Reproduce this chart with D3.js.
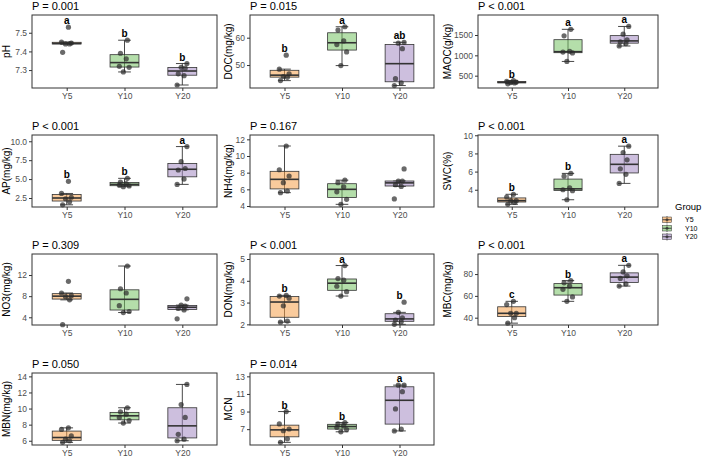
<!DOCTYPE html>
<html>
<head>
<meta charset="utf-8">
<script src="https://cdn.jsdelivr.net/npm/d3@7"></script>
<style>
  body { margin: 0; background: #fff; }
  svg { display: block; font-family: "Liberation Sans", Arial, sans-serif; }
</style>
</head>
<body>
<svg id="chart" width="709" height="457"></svg>
<script>
/* Data */
/* **** */
var groups = ['Y5', 'Y10', 'Y20'];
var groupFills = ['#F5A04A', '#77C364', '#A48AC3'];

// one inner array per group, in the order of `groups`
var phValues   = [[7.395, 7.44, 7.44, 7.445, 7.45, 7.53], [7.29, 7.315, 7.32, 7.36, 7.39, 7.46], [7.22, 7.27, 7.28, 7.31, 7.315, 7.335]];
var docValues  = [[44.3, 45.5, 45.8, 46.8, 48.5, 53.6], [49.8, 54.8, 57.5, 58.8, 62.8, 64.0], [42.5, 43.5, 45.0, 56.0, 58.0, 58.3]];
var maocValues = [[300, 320, 330, 345, 360, 380], [850, 1060, 1080, 1100, 1480, 1640], [1230, 1290, 1330, 1380, 1520, 1710]];
var apValues   = [[1.6, 2.0, 2.4, 2.6, 3.1, 4.7], [4.0, 4.1, 4.2, 4.4, 4.6, 5.1], [4.3, 5.0, 6.2, 6.4, 7.3, 9.3]];
var nh4Values  = [[5.6, 5.8, 6.8, 7.6, 8.35, 11.2], [4.2, 4.8, 5.7, 6.3, 6.8, 7.1], [4.85, 6.35, 6.55, 7.0, 7.0, 8.45]];
var swcValues  = [[2.4, 2.6, 2.8, 2.8, 3.2, 3.5], [2.9, 3.9, 4.0, 4.2, 5.5, 5.8], [4.7, 5.7, 6.3, 7.3, 8.1, 8.8]];
var no3Values  = [[2.6, 7.3, 7.9, 8.1, 8.6, 10.8], [4.9, 5.1, 6.2, 8.6, 9.4, 13.7], [3.7, 5.4, 5.7, 6.1, 6.3, 7.5]];
var donValues  = [[2.1, 2.15, 2.85, 3.2, 3.3, 3.33], [3.3, 3.5, 3.75, 4.03, 4.1, 4.7], [2.0, 2.12, 2.2, 2.3, 2.55, 3.02]];
var mbcValues  = [[35, 40, 44, 44, 52, 55], [55, 59, 66, 69, 72, 74], [69, 71, 76, 78.4, 82, 88]];
var mbnValues  = [[5.8, 6.0, 6.2, 6.6, 7.4, 7.6], [8.2, 8.5, 8.9, 9.3, 9.6, 10.1], [6.0, 6.2, 6.8, 8.9, 10.5, 13.0]];
var mcnValues  = [[5.5, 5.9, 6.82, 7.02, 7.6, 9.0], [6.7, 6.95, 7.2, 7.4, 7.6, 7.75], [6.8, 7.0, 9.3, 11.26, 12.0, 12.0]];

var yTitles = ['pH', 'DOC(mg/kg)', 'MAOC(g/kg)', 'AP(mg/kg)', 'NH4(mg/kg)', 'SWC(%)',
               'NO3(mg/kg)', 'DON(mg/kg)', 'MBC(mg/kg)', 'MBN(mg/kg)', 'MCN'];
var pLabels = ['P = 0.001', 'P = 0.015', 'P < 0.001', 'P < 0.001', 'P = 0.167', 'P < 0.001',
               'P = 0.309', 'P < 0.001', 'P < 0.001', 'P = 0.050', 'P = 0.014'];
var letters = [['a', 'b', 'b'], ['b', 'a', 'ab'], ['b', 'a', 'a'], ['b', 'b', 'a'], ['', '', ''], ['b', 'b', 'a'],
               ['', '', ''], ['b', 'a', 'b'], ['c', 'b', 'a'], ['', '', ''], ['b', 'b', 'a']];
var yDomains = [[7.204, 7.595], [41.6, 68.3], [197, 1992], [1.31, 10.83], [3.88, 12.52], [2.1, 10.03],
                [2.54, 15.98], [1.97, 5.23], [33.3, 98.4], [5.47, 14.42], [5.2, 13.38]];
var yTicks = [[7.3, 7.4, 7.5], [50, 60], [500, 1000, 1500], [2.5, 5.0, 7.5, 10.0], [4, 6, 8, 10, 12], [4, 6, 8, 10],
              [4, 8, 12], [2, 3, 4, 5], [40, 60, 80], [6, 8, 10, 12, 14], [7, 9, 11, 13]];
var yTickFormats = ['.1f', 'd', 'd', '.1f', 'd', 'd', 'd', 'd', 'd', 'd', 'd'];

var panels = [phValues, docValues, maocValues, apValues, nh4Values, swcValues,
              no3Values, donValues, mbcValues, mbnValues, mcnValues].map(function (v, i) {
    return { values: v, title: yTitles[i], p: pLabels[i], letters: letters[i],
             domain: yDomains[i], ticks: yTicks[i], fmt: yTickFormats[i] };
});

/* Layout */
/* ****** */
var colLeft = [32, 250, 478];
var colRight = [217, 434, 658];
var colTitleX = [6, 228, 447];
var rowTop = [15, 135, 254, 373];
var rowBottom = [88, 207, 325, 445];
var jitter = [-0.07, 0.05, -0.02, 0.08, -0.09, 0.03];
var boxWidth = 0.5, capWidth = 0.22;
var dark = '#333333';

var svg = d3.select('#chart');

function boxStats(v) {
    var s = v.slice().sort(d3.ascending);
    var q1 = d3.quantileSorted(s, 0.25), med = d3.quantileSorted(s, 0.5), q3 = d3.quantileSorted(s, 0.75);
    var iqr = q3 - q1;
    return {
        q1: q1, med: med, q3: q3,
        lo: d3.min(s.filter(function (d) { return d >= q1 - 1.5 * iqr; })),
        hi: d3.max(s.filter(function (d) { return d <= q3 + 1.5 * iqr; }))
    };
}

panels.forEach(function (pn, i) {
    var col = i % 3, row = Math.floor(i / 3);
    var x0 = colLeft[col], x1 = colRight[col], y0 = rowTop[row], y1 = rowBottom[row];

    var x = d3.scalePoint().domain(groups).range([x0, x1]).padding(0.6);
    var step = x.step();
    var y = d3.scaleLinear().domain(pn.domain).range([y1, y0]);

    var g = svg.append('g').attr('class', 'panel');

    // P value title
    g.append('text')
        .attr('x', x0).attr('y', y0 - 5.5)
        .attr('font-size', 11).attr('fill', '#000')
        .text(pn.p);

    // axis title
    g.append('text')
        .attr('transform', 'translate(' + colTitleX[col] + ',' + ((y0 + y1) / 2) + ') rotate(-90)')
        .attr('text-anchor', 'middle').attr('dy', '0.35em')
        .attr('font-size', 10).attr('fill', '#000')
        .text(pn.title);

    // axes
    var yAxis = g.append('g')
        .attr('transform', 'translate(' + x0 + ',0)')
        .call(d3.axisLeft(y).tickValues(pn.ticks).tickFormat(d3.format(pn.fmt)).tickSize(3).tickPadding(2));
    var xAxis = g.append('g')
        .attr('transform', 'translate(0,' + y1 + ')')
        .call(d3.axisBottom(x).tickSize(3).tickPadding(2));
    [yAxis, xAxis].forEach(function (a) {
        a.select('.domain').remove();
        a.selectAll('line').attr('stroke', dark);
        a.selectAll('text').attr('fill', '#4d4d4d').attr('font-size', 8.5)
            .attr('font-family', '"Liberation Sans", Arial, sans-serif');
    });

    // boxes
    pn.values.forEach(function (vals, gi) {
        var st = boxStats(vals);
        var cx = x(groups[gi]);
        var bw = boxWidth * step, cw = capWidth * step;
        var bg = g.append('g');

        // error bar (whisker line + caps)
        bg.append('line')
            .attr('x1', cx).attr('x2', cx).attr('y1', y(st.lo)).attr('y2', y(st.hi))
            .attr('stroke', dark).attr('stroke-width', 0.9);
        [st.lo, st.hi].forEach(function (v) {
            bg.append('line')
                .attr('x1', cx - cw / 2).attr('x2', cx + cw / 2).attr('y1', y(v)).attr('y2', y(v))
                .attr('stroke', dark).attr('stroke-width', 0.9);
        });

        bg.append('rect')
            .attr('x', cx - bw / 2).attr('width', bw)
            .attr('y', y(st.q3)).attr('height', Math.max(0.5, y(st.q1) - y(st.q3)))
            .attr('fill', groupFills[gi]).attr('fill-opacity', 0.55)
            .attr('stroke', dark).attr('stroke-width', 0.8);
        bg.append('line')
            .attr('x1', cx - bw / 2).attr('x2', cx + bw / 2).attr('y1', y(st.med)).attr('y2', y(st.med))
            .attr('stroke', dark).attr('stroke-width', 1.6);

        // jittered points
        bg.selectAll('circle')
            .data(vals)
            .enter()
            .append('circle')
            .attr('cx', function (d, k) { return cx + jitter[(k + gi * 2) % jitter.length] * step; })
            .attr('cy', function (d) { return y(d); })
            .attr('r', 2.6)
            .attr('fill', '#2b2b2b').attr('fill-opacity', 0.7);

        // significance letter
        if (pn.letters[gi]) {
            bg.append('text')
                .attr('x', cx).attr('y', y(d3.max(vals)) - 3)
                .attr('text-anchor', 'middle')
                .attr('font-size', 10).attr('font-weight', 'bold').attr('fill', '#000')
                .text(pn.letters[gi]);
        }
    });

    // panel border
    g.append('rect')
        .attr('x', x0).attr('y', y0).attr('width', x1 - x0).attr('height', y1 - y0)
        .attr('fill', 'none').attr('stroke', dark).attr('stroke-width', 1);
});

/* Legend */
/* ****** */
var legend = svg.append('g').attr('transform', 'translate(662,0)');
legend.append('text')
    .attr('x', 13).attr('y', 210)
    .attr('font-size', 9.5).attr('fill', '#000')
    .text('Group');
groups.forEach(function (name, gi) {
    var ky = 216 + gi * 8.5;
    var k = legend.append('g').attr('transform', 'translate(0,' + ky + ')');
    k.append('line').attr('x1', 5).attr('x2', 5).attr('y1', 0).attr('y2', 7.5).attr('stroke', dark).attr('stroke-width', 0.7);
    k.append('rect').attr('x', 0.5).attr('y', 1).attr('width', 9).attr('height', 5.5)
        .attr('fill', groupFills[gi]).attr('fill-opacity', 0.6).attr('stroke', dark).attr('stroke-width', 0.5);
    k.append('line').attr('x1', 0.5).attr('x2', 9.5).attr('y1', 3.75).attr('y2', 3.75).attr('stroke', dark).attr('stroke-width', 0.9);
    k.append('circle').attr('cx', 5).attr('cy', 3.75).attr('r', 1.5).attr('fill', '#2b2b2b').attr('fill-opacity', 0.7);
    k.append('text').attr('x', 23).attr('y', 3.75).attr('dy', '0.35em')
        .attr('font-size', 7).attr('fill', '#000').text(name);
});
</script>
</body>
</html>
